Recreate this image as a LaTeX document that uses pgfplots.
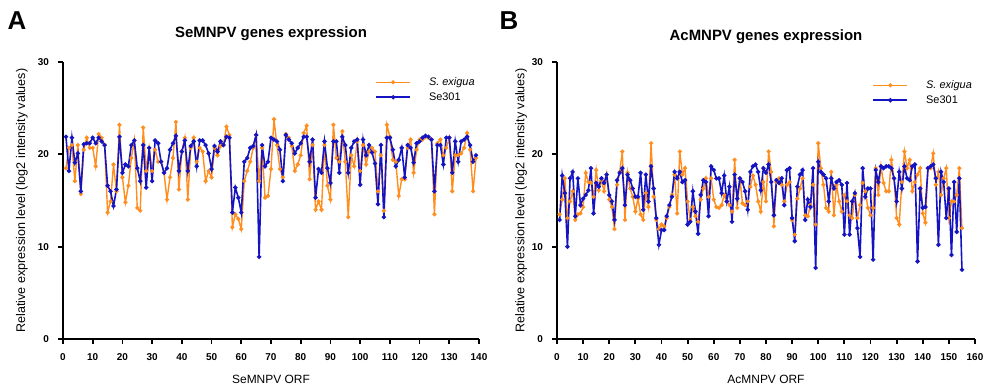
\documentclass[border=0pt]{standalone}
\usepackage{pgfplots}
\pgfplotsset{compat=1.18}
\usepackage{pgfplotstable}
\usepackage{fontspec}
\setmainfont{Liberation Sans}
\definecolor{sorange}{RGB}{255,142,30}
\definecolor{sblue}{RGB}{20,20,195}

\pgfplotstableread{
x y
1 18.5
2 20.7
3 21.0
4 17.1
5 21.0
6 15.7
7 20.5
8 21.8
9 20.7
10 20.7
11 18.7
12 22.2
13 21.8
14 21.0
15 13.7
16 14.9
17 18.9
18 16.0
19 23.2
20 17.5
21 14.8
22 16.6
23 19.6
24 21.5
25 14.2
26 13.9
27 22.9
28 18.2
29 20.7
30 18.2
31 20.5
32 19.2
33 19.2
34 18.0
35 15.1
36 17.5
37 19.6
38 23.5
39 16.2
40 20.3
41 21.8
42 15.1
43 20.7
44 21.8
45 19.2
46 20.7
47 20.3
48 17.1
49 18.2
50 17.5
51 20.7
52 19.9
53 20.9
54 21.0
55 23.0
56 22.1
57 12.1
58 13.5
59 13.0
60 11.9
61 17.1
62 18.2
63 19.2
64 20.7
65 22.1
66 17.1
67 20.7
68 15.3
69 15.5
70 18.4
71 23.8
72 21.0
73 18.4
74 17.5
75 22.2
76 21.8
77 20.9
78 18.2
79 18.9
80 19.9
81 22.3
82 23.1
83 17.3
84 21.0
85 14.0
86 14.9
87 14.0
88 21.0
89 16.6
90 15.1
91 23.2
92 19.6
93 19.2
94 22.5
95 19.2
96 13.2
97 19.9
98 18.7
99 21.4
100 18.2
101 21.0
102 18.9
103 20.3
104 20.7
105 20.3
106 16.0
107 19.9
108 13.9
109 23.2
110 21.9
111 19.4
112 19.2
113 15.5
114 17.3
115 17.3
116 20.7
117 21.6
118 18.0
119 20.5
120 21.6
121 21.6
122 21.9
123 21.8
124 21.6
125 13.5
126 21.2
127 21.6
128 19.9
129 20.7
130 21.8
131 16.0
132 19.9
133 19.9
134 20.1
135 20.7
136 22.3
137 20.5
138 16.0
139 19.6
}\seOrange

\pgfplotstableread{
x y
1 21.9
2 18.2
3 21.8
4 19.1
5 20.1
6 16.0
7 21.1
8 21.2
9 21.2
10 21.8
11 21.2
12 21.8
13 21.4
14 21.0
15 16.6
16 16.0
17 14.4
18 16.2
19 21.9
20 18.0
21 18.9
22 18.7
23 21.0
24 21.5
25 18.5
26 17.1
27 21.0
28 16.4
29 20.7
30 17.1
31 21.5
32 21.2
33 19.2
34 18.0
35 18.5
36 20.5
37 21.2
38 22.0
39 18.2
40 20.3
41 21.5
42 18.2
43 20.9
44 21.4
45 18.7
46 21.5
47 21.5
48 21.0
49 20.1
50 18.4
51 20.9
52 20.3
53 21.4
54 21.0
55 21.9
56 21.8
57 13.7
58 16.4
59 15.3
60 13.7
61 19.2
62 19.6
63 20.7
64 20.9
65 22.1
66 8.9
67 21.0
68 18.7
69 19.2
70 21.8
71 21.6
72 21.4
73 20.5
74 17.1
75 22.1
76 21.6
77 21.2
78 20.1
79 20.7
80 21.2
81 21.9
82 21.9
83 19.2
84 21.6
85 15.3
86 18.4
87 18.0
88 21.4
89 18.5
90 16.9
91 21.4
92 21.4
93 18.0
94 21.9
95 21.0
96 18.0
97 20.7
98 21.4
99 21.6
100 16.7
101 21.6
102 19.9
103 21.0
104 20.2
105 19.0
106 14.6
107 21.0
108 13.2
109 21.8
110 21.8
111 20.5
112 18.7
113 19.4
114 20.7
115 17.5
116 21.0
117 20.7
118 19.1
119 21.2
120 21.4
121 21.8
122 22.0
123 21.9
124 21.6
125 16.0
126 21.0
127 21.0
128 18.9
129 21.8
130 21.8
131 18.0
132 21.4
133 19.2
134 21.4
135 21.6
136 21.9
137 21.0
138 19.2
139 19.9
}\seBlue

\pgfplotstableread{
x y
1 13.5
2 15.1
3 17.4
4 13.1
5 14.9
6 16.0
7 12.9
8 13.5
9 13.6
10 14.3
11 18.0
12 17.0
13 16.9
14 15.4
15 18.3
16 16.1
17 17.2
18 16.0
19 17.8
20 15.1
21 14.3
22 11.9
23 16.7
24 18.1
25 20.3
26 12.9
27 18.0
28 16.3
29 15.4
30 13.8
31 15.2
32 13.5
33 12.9
34 15.8
35 14.3
36 21.2
37 15.4
38 12.9
39 11.9
40 12.4
41 12.2
42 13.1
43 14.3
44 15.6
45 17.8
46 13.6
47 20.3
48 17.8
49 18.5
50 14.9
51 12.9
52 14.3
53 13.3
54 12.7
55 15.1
56 16.3
57 17.4
58 15.4
59 17.4
60 15.1
61 14.3
62 14.2
63 14.5
64 15.6
65 14.9
66 14.5
67 13.8
68 19.4
69 14.2
70 17.4
71 14.7
72 14.5
73 14.9
74 16.5
75 17.7
76 16.7
77 14.9
78 13.8
79 17.0
80 14.9
81 20.3
82 18.1
83 12.2
84 17.0
85 17.4
86 16.7
87 14.9
88 16.7
89 17.0
90 12.9
91 11.3
92 15.2
93 16.3
94 17.4
95 13.4
96 13.3
97 14.5
98 16.7
99 12.4
100 21.2
101 18.5
102 16.7
103 14.2
104 13.8
105 18.1
106 13.4
107 16.7
108 14.9
109 13.8
110 15.6
111 14.9
112 13.4
113 13.1
114 15.6
115 13.1
116 14.5
117 16.9
118 16.0
119 14.2
120 13.4
121 14.2
122 18.5
123 15.6
124 18.7
125 16.9
126 16.0
127 16.0
128 19.4
129 17.4
130 13.1
131 12.4
132 17.0
133 20.3
134 18.5
135 19.4
136 16.0
137 17.0
138 17.8
139 18.5
140 13.6
141 12.6
142 18.5
143 18.5
144 20.1
145 16.7
146 18.1
147 15.6
148 17.4
149 18.5
150 13.1
151 14.9
152 14.9
153 15.6
154 18.5
155 12.0
}\acOrange

\pgfplotstableread{
x y
1 12.9
2 17.7
3 15.8
4 10.0
5 17.4
6 18.1
7 13.3
8 17.4
9 14.5
10 15.2
11 15.6
12 16.1
13 18.5
14 13.6
15 16.9
16 16.5
17 17.4
18 16.9
19 17.8
20 15.6
21 14.9
22 12.9
23 17.2
24 18.0
25 18.5
26 14.5
27 17.8
28 17.2
29 16.3
30 15.4
31 15.4
32 18.0
33 14.0
34 17.8
35 14.9
36 18.7
37 16.3
38 13.1
39 10.2
40 11.8
41 11.8
42 13.3
43 14.5
44 15.4
45 18.1
46 17.4
47 18.1
48 17.0
49 17.2
50 12.4
51 12.7
52 16.0
53 13.8
54 11.4
55 15.6
56 17.2
57 17.0
58 13.3
59 18.7
60 18.3
61 17.4
62 17.4
63 15.8
64 17.7
65 14.9
66 16.5
67 12.7
68 17.8
69 15.2
70 17.4
71 17.0
72 16.0
73 14.0
74 18.1
75 18.7
76 18.9
77 18.1
78 16.1
79 18.5
80 18.0
81 18.9
82 17.0
83 13.4
84 17.2
85 16.9
86 17.4
87 14.5
88 18.3
89 18.5
90 13.1
91 10.6
92 16.5
93 17.8
94 18.3
95 12.9
96 15.1
97 14.3
98 18.5
99 7.7
100 19.2
101 18.1
102 17.8
103 17.4
104 14.9
105 17.4
106 16.3
107 17.0
108 17.2
109 16.7
110 11.3
111 16.9
112 11.3
113 14.9
114 15.8
115 12.0
116 8.9
117 18.5
118 15.4
119 16.3
120 16.3
121 8.6
122 18.3
123 17.0
124 18.7
125 18.5
126 18.7
127 18.7
128 18.5
129 17.4
130 14.9
131 18.1
132 16.3
133 18.7
134 17.4
135 17.2
136 18.7
137 18.9
138 8.4
139 16.3
140 14.2
141 14.3
142 18.5
143 18.7
144 18.9
145 17.4
146 10.2
147 18.1
148 17.0
149 13.1
150 16.3
151 9.1
152 17.0
153 11.6
154 17.4
155 7.5
}\acBlue

\pgfplotsset{
  gp/.style={
    scale only axis, height=138.5bp,
    axis x line*=bottom, axis y line*=left,
    ymin=0, ymax=30, ytick={0,10,20,30},
    xtick distance=10,
    tick align=outside, major tick length=2.5bp,
    axis line style={line width=0.9bp, black},
    every tick/.style={line width=0.9bp, black},
    tick label style={font=\fontsize{5}{6}\selectfont\bfseries},
    xticklabel style={yshift=-1.5bp},
    yticklabel style={xshift=-1bp},
    /pgf/number format/assume math mode=true,
    xlabel style={font=\fontsize{6}{7}\selectfont, at={(axis description cs:0.5,-0.145)}, anchor=center},
    ylabel style={font=\fontsize{6.3}{7}\selectfont, anchor=center},
    every axis title shift=0pt,
    title style={font=\fontsize{7.5}{9}\selectfont\bfseries, at={(axis description cs:0.5,1)}, anchor=center},
    legend style={draw=none, fill=none, font=\fontsize{5.5}{6.5}\selectfont, row sep=1.5bp, inner sep=0pt,
      nodes={inner sep=0.5bp, text height=4bp, text depth=1bp},
      /tikz/every odd column/.append style={column sep=8.5bp}},
    legend cell align=left,
    legend image code/.code={\draw[mark repeat=2,mark phase=2,#1] plot coordinates {(0bp,0bp) (8.5bp,0bp) (17bp,0bp)};},
  },
  orl/.style={color=sorange, line width=0.7bp, mark=*, mark size=0.65bp, mark options={solid}},
  bll/.style={color=sblue, line width=0.8bp, mark=*, mark size=0.65bp, mark options={solid}},
}

\begin{document}
\begin{tikzpicture}
\useasboundingbox (0,0) rectangle (494bp,194bp);
\node[font=\fontsize{13}{15}\selectfont\bfseries] at (8.5bp,183.5bp) {A};
\node[font=\fontsize{13}{15}\selectfont\bfseries] at (254.5bp,183.5bp) {B};

\begin{axis}[gp, at={(31.5bp,24.5bp)}, anchor=south west, width=208bp,
  xmin=0, xmax=140,
  title={SeMNPV genes expression},
  title style={yshift=14bp},
  xlabel={SeMNPV ORF},
  ylabel={Relative expression level (log2 intensity values)},
  ylabel style={at={(axis description cs:-0.099,0.5)}},
  legend style={at={(axis description cs:0.75,0.950)}, anchor=north west}]
\addplot[orl] table[x=x,y=y] {\seOrange};
\addlegendentry{\textit{S. exigua}}
\addplot[bll] table[x=x,y=y] {\seBlue};
\addlegendentry{Se301}
\end{axis}

\begin{axis}[gp, at={(278.5bp,24.5bp)}, anchor=south west, width=209bp,
  xmin=0, xmax=160,
  title={AcMNPV genes expression},
  title style={yshift=12.5bp},
  xlabel={AcMNPV ORF},
  ylabel={Relative expression level (log2 intensity values)},
  ylabel style={at={(axis description cs:-0.086,0.5)}},
  legend style={at={(axis description cs:0.754,0.939)}, anchor=north west}]
\addplot[orl] table[x=x,y=y] {\acOrange};
\addlegendentry{\textit{S. exigua}}
\addplot[bll] table[x=x,y=y] {\acBlue};
\addlegendentry{Se301}
\end{axis}
\end{tikzpicture}
\end{document}
